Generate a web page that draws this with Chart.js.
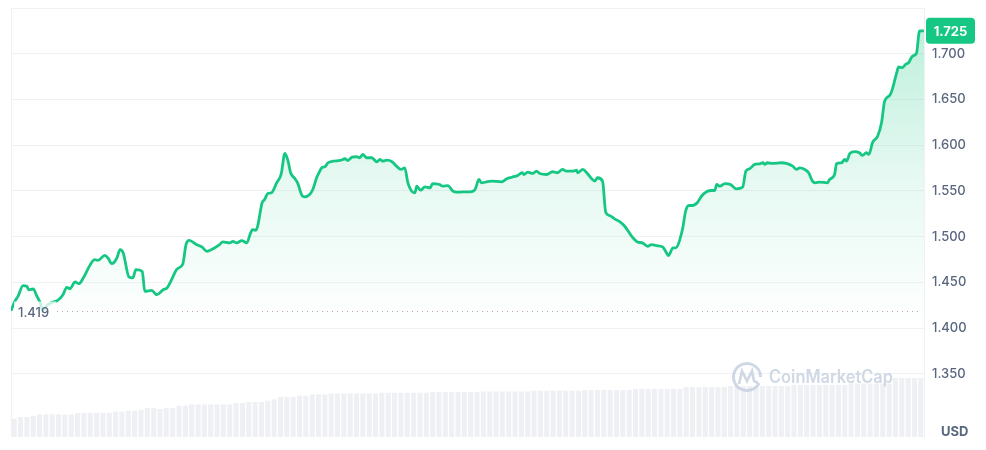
<!DOCTYPE html>
<html>
<head>
<meta charset="utf-8">
<script src="https://cdn.jsdelivr.net/npm/chart.js@4"></script>
<style>
  html,body{margin:0;padding:0;background:#fff;}
  #wrap{width:986px;height:450px;position:relative;}
</style>
</head>
<body>
<div id="wrap"><canvas id="c" width="986" height="450"></canvas></div>
<script>
// ---- data (24h, minutes from start) ----
const priceTimes = [0,6,11,19,25,28,35,41,46,50,58,69,73,82,88,93,101,107,114,125,132,137,148,153,159,167,172,177,186,192,197,207,211,222,230,240,246,252,262,271,276,281,293,301,309,318,329,334,345,350,356,364,372,377,381,386,389,396,400,405,411,419,426,432,437,441,448,452,459,463,471,476,482,487,490,495,500,508,519,527,531,538,545,550,555,561,569,577,582,586,593,601,608,615,621,626,632,637,640,646,653,661,665,676,681,689,697,703,713,724,732,738,742,750,758,774,782,790,799,806,809,815,823,829,834,845,854,862,870,876,886,892,894,902,908,917,921,925,933,938,944,952,960,968,979,988,996,1004,1010,1018,1028,1034,1037,1044,1048,1059,1064,1069,1075,1083,1089,1097,1105,1110,1113,1118,1126,1135,1138,1144,1154,1159,1165,1173,1181,1186,1189,1193,1201,1215,1223,1233,1239,1244,1252,1258,1264,1269,1275,1288,1291,1299,1302,1310,1315,1318,1323,1331,1338,1343,1349,1353,1359,1367,1373,1378,1386,1390,1397,1400,1406,1411,1416,1422,1428,1433,1440];
const prices = [1.419,1.4292,1.4347,1.4464,1.4457,1.4420,1.4428,1.4347,1.4278,1.4195,1.4256,1.4292,1.4300,1.4366,1.4446,1.4431,1.4505,1.4486,1.4549,1.4694,1.4749,1.4741,1.4796,1.4767,1.4705,1.4767,1.4859,1.4822,1.4560,1.4549,1.4639,1.4621,1.4402,1.4413,1.4366,1.4420,1.4439,1.4511,1.4647,1.4702,1.4913,1.4960,1.4913,1.4888,1.4840,1.4866,1.4913,1.4943,1.4932,1.4949,1.4932,1.4957,1.4932,1.5023,1.5078,1.5070,1.5114,1.5370,1.5406,1.5472,1.5480,1.5589,1.5680,1.5910,1.5826,1.5699,1.5633,1.5589,1.5450,1.5436,1.5461,1.5516,1.5644,1.5716,1.5753,1.5764,1.5808,1.5826,1.5833,1.5852,1.5833,1.5869,1.5874,1.5863,1.5899,1.5863,1.5863,1.5819,1.5844,1.5826,1.5837,1.5819,1.5771,1.5735,1.5753,1.5589,1.5497,1.5480,1.5552,1.5508,1.5545,1.5534,1.5581,1.5570,1.5552,1.5559,1.5497,1.5486,1.5490,1.5490,1.5516,1.5625,1.5589,1.5600,1.5607,1.5600,1.5633,1.5650,1.5669,1.5699,1.5680,1.5705,1.5691,1.5716,1.5691,1.5680,1.5710,1.5699,1.5735,1.5716,1.5716,1.5727,1.5699,1.5735,1.5699,1.5625,1.5607,1.5644,1.5607,1.5267,1.5231,1.5195,1.5165,1.5114,1.5004,1.4943,1.4932,1.4895,1.4913,1.4902,1.4888,1.4822,1.4793,1.4877,1.4877,1.5078,1.5278,1.5341,1.5341,1.5377,1.5442,1.5491,1.5505,1.5505,1.5571,1.5552,1.5581,1.5570,1.5552,1.5523,1.5541,1.5716,1.5742,1.5790,1.5797,1.5808,1.5790,1.5808,1.5801,1.5808,1.5801,1.5771,1.5735,1.5753,1.5735,1.5699,1.5607,1.5589,1.5596,1.5589,1.5625,1.5680,1.5797,1.5808,1.5844,1.5826,1.5910,1.5929,1.5918,1.5888,1.5918,1.5899,1.6031,1.6100,1.6246,1.6483,1.6545,1.6611,1.6794,1.6855,1.6849,1.6885,1.6904,1.6976,1.7002,1.725,1.725];
// volume per 10-minute interval (thousands)
const volumes = [18.3,20,20,21.3,22.6,22.6,22.6,22.6,22.6,22.6,24,24,24,24,24,24,25.3,25.3,26.3,26.3,27.3,29,29,28,29,29,31.3,31.3,32.6,32.6,32.6,32.6,32.6,32.6,32.6,34,34,35,35,35,36.3,37.6,40,40,40,41.3,41.3,42.6,42.6,42.6,
43.5,43.5,43.5,43.5,43.5,43.5,43.5,43.5,
44.3,44.3,44.3,44.3,44.3,44.3,44.3,44.3,
45,45,45,45,45,45,45,45,
45.6,45.6,45.6,45.6,45.6,45.6,45.6,45.6,
46.3,46.3,46.3,46.3,46.3,46.3,46.3,46.3,
47,47,47,47,47,47,47,47,
48,48,48,48,48,48,48,48,
50,50,50,50,50,50,50,
51,51,51,51,51,51,51,51,51,51,
52,52,52,52,52,52,52,52,52,
53.5,53.5,53.5,53.5,53.5,53.5,53.5,
59,59,59,59,59];
const yTicks = [1.35,1.40,1.45,1.50,1.55,1.60,1.65,1.70,1.75];
const currencyLabel = 'USD';
const brand = 'CoinMarketCap';

const GREEN = '#16c784';
const TEXT = '#58667e';

Chart.defaults.font.family = 'Inter, "Noto Sans", sans-serif';

const pricePoints = priceTimes.map((t,i)=>({x:t, y:prices[i]}));
const volPoints = volumes.map((v,i)=>({x:5+10*i, y:v}));

const overlay = {
  id:'overlay',
  beforeDatasetsDraw(chart){
    const {ctx, chartArea:a} = chart;
    ctx.save();
    ctx.strokeStyle = '#eff2f5';
    ctx.lineWidth = 1;
    ctx.beginPath();
    ctx.moveTo(a.left+0.5, a.top);
    ctx.lineTo(a.left+0.5, a.bottom);
    ctx.stroke();
    ctx.restore();
  },
  afterDatasetsDraw(chart){
    const {ctx, chartArea:a, scales:{y}} = chart;
    ctx.save();
    // watermark
    ctx.strokeStyle = 'rgba(196,206,222,0.8)';
    ctx.fillStyle = 'rgba(196,206,222,0.8)';
    ctx.lineWidth = 3;
    ctx.beginPath();
    ctx.arc(747, 377, 13.5, Math.PI*0.15, Math.PI*2.0);
    ctx.stroke();
    ctx.lineWidth = 2.6;
    ctx.beginPath();
    ctx.moveTo(739, 384);
    ctx.lineTo(742, 371);
    ctx.lineTo(747, 381);
    ctx.lineTo(752, 371);
    ctx.lineTo(754, 381);
    ctx.lineTo(758, 383);
    ctx.stroke();
    ctx.font = '600 18px Inter, sans-serif';
    ctx.textBaseline = 'middle';
    ctx.textAlign = 'left';
    ctx.fillText(brand, 769, 378, 124);

    // baseline (first price)
    const y0 = Math.round(y.getPixelForValue(prices[0])) + 0.5;
    ctx.strokeStyle = '#c4a3ad';
    ctx.lineWidth = 1;
    ctx.setLineDash([1,4]);
    ctx.beginPath();
    ctx.moveTo(57, y0);
    ctx.lineTo(a.right-2, y0);
    ctx.stroke();
    ctx.setLineDash([]);
    ctx.fillStyle = 'rgba(255,255,255,0.75)';
    ctx.fillRect(14, y0-10, 42, 20);
    ctx.fillStyle = TEXT;
    ctx.font = '500 13px Inter, sans-serif';
    ctx.textBaseline = 'middle';
    ctx.textAlign = 'left';
    ctx.fillText(prices[0].toFixed(3), 18, y0+2);
    // last price tag
    const last = prices[prices.length-1];
    const yl = y.getPixelForValue(last);
    const bx = a.right+2, bw = 49, bh = 26;
    ctx.fillStyle = GREEN;
    ctx.beginPath();
    ctx.roundRect(bx, yl-bh/2, bw, bh, 4);
    ctx.fill();
    ctx.fillStyle = '#fff';
    ctx.font = '700 13px Inter, sans-serif';
    ctx.textAlign = 'center';
    ctx.fillText(last.toFixed(3), bx+bw/2, yl+1);
    // currency
    ctx.fillStyle = TEXT;
    ctx.font = '700 13px Inter, sans-serif';
    ctx.textAlign = 'left';
    ctx.fillText(currencyLabel, 941, 432);
    ctx.restore();
  }
};

new Chart(document.getElementById('c'), {
  data:{
    datasets:[
      {
        type:'line',
        data:pricePoints,
        borderColor:GREEN,
        borderWidth:2.8,
        pointRadius:0,
        cubicInterpolationMode:'monotone',
        fill:'start',
        backgroundColor:(ctx)=>{
          const ch = ctx.chart; const a = ch.chartArea;
          if(!a) return 'rgba(22,199,132,0.1)';
          const g = ch.ctx.createLinearGradient(0, a.top, 0, ch.scales.y.getPixelForValue(1.40));
          g.addColorStop(0,'rgba(22,199,132,0.30)');
          g.addColorStop(0.55,'rgba(22,199,132,0.10)');
          g.addColorStop(1,'rgba(22,199,132,0)');
          return g;
        },
        xAxisID:'x', yAxisID:'y', order:1
      },
      {
        type:'bar',
        data:volPoints,
        backgroundColor:'#eef0f4',
        barPercentage:0.8,
        categoryPercentage:1,
        xAxisID:'x', yAxisID:'yv', order:2
      }
    ]
  },
  options:{
    responsive:false,
    animation:false,
    layout:{padding:{left:11, top:8, bottom:13, right:0}},
    plugins:{legend:{display:false}, tooltip:{enabled:false}},
    scales:{
      x:{type:'linear', min:0, max:1440, display:false, offset:false, grid:{offset:false}},
      y:{
        position:'right', min:1.281, max:1.75,
        afterBuildTicks:(s)=>{ s.ticks = yTicks.map(v=>({value:v})); },
        afterFit:(s)=>{ s.width = 62; s.paddingTop = 0; s.paddingBottom = 0; },
        grid:{color:'#eff2f5', drawTicks:false},
        border:{display:true, color:'#eff2f5'},
        ticks:{
          padding:8, color:TEXT,
          font:{size:13, weight:'500'},
          callback:(v)=> v>=1.749 ? '' : Number(v).toFixed(3)
        }
      },
      yv:{display:false, min:0, max:429}
    }
  },
  plugins:[overlay]
});
</script>
</body>
</html>
